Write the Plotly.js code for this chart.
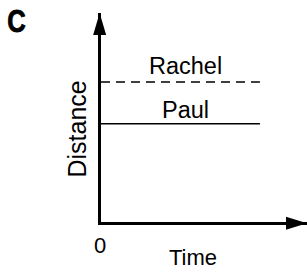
<!DOCTYPE html>
<html><head><meta charset="utf-8">
<script src="https://cdn.plot.ly/plotly-3.0.1.min.js"></script>
<style>html,body{margin:0;padding:0;background:#fff;}#chart{width:307px;height:272px;}</style>
</head><body><div id="chart"></div>
<script>
// Data
const time = [0, 1];
const names = ["Rachel", "Paul"];
const distances = [6.7, 4.7];
const dashes = ["9px,6px", "solid"];
const panelLabel = "C";
const xTitle = "Time";
const yTitle = "Distance";
const originLabel = "0";

const XMAX = 1.296, YMAX = 10;
const fam = "Liberation Sans, Arial, sans-serif";
const font = {family: fam, size: 23.5, color: "#000"};

const traces = names.map((n, i) => ({
  x: time, y: [distances[i], distances[i]], mode: "lines", name: n,
  line: {color: "#000", width: 1.4, dash: dashes[i]}, hoverinfo: "skip", showlegend: false
}));

const W = 307, H = 272, M = {l: 101, r: 0, t: 13, b: 50};
const pw = W - M.l - M.r, ph = H - M.t - M.b;

const annotations = names.map((n, i) => ({
  x: 0.53, y: distances[i], xref: "x", yref: "y", text: n, showarrow: false,
  yanchor: "bottom", yshift: i === 0 ? 1 : -1, font: font
}));
annotations.push(
  {x: 0, y: 0, xref: "x", yref: "y", text: originLabel, showarrow: false, yanchor: "middle", yshift: -23, xshift: -1,
   font: {family: fam, size: 22, color: "#000"}},
  {x: 0.58, y: 0, xref: "x", yref: "y", text: xTitle, showarrow: false, yanchor: "middle", yshift: -35,
   font: {family: fam, size: 22, color: "#000"}},
  {x: 0, y: 0.5, xref: "paper", yref: "paper", text: yTitle, showarrow: false, textangle: -90, xanchor: "center",
   xshift: -25, yshift: -12, font: {family: fam, size: 25, color: "#000"}},
  {x: (16.5 - M.l) / pw, y: 1 - (21 - M.t) / ph, xref: "paper", yref: "paper", text: panelLabel,
   showarrow: false, xanchor: "center", yanchor: "middle",
   font: {family: "Liberation Sans, Arial", size: 32, weight: "bold", color: "#000"}}
);

const shapes = [
  {type: "path", xref: "paper", yref: "paper", xsizemode: "pixel", ysizemode: "pixel", xanchor: 0, yanchor: 1,
   path: "M-1.35,0 L-7.85,-22 L5.15,-22 Z", fillcolor: "#000", line: {width: 0}},
  {type: "path", xref: "paper", yref: "paper", xsizemode: "pixel", ysizemode: "pixel", xanchor: 1, yanchor: 0,
   path: "M0,-1.35 L-21,5.15 L-21,-7.85 Z", fillcolor: "#000", line: {width: 0}}
];

const layout = {
  width: W, height: H, margin: M, paper_bgcolor: "#fff", plot_bgcolor: "#fff",
  xaxis: {range: [0, XMAX], showline: true, linewidth: 2.7, linecolor: "#000", showgrid: false, zeroline: false,
          showticklabels: false, ticks: "", fixedrange: true},
  yaxis: {range: [0, YMAX], showline: true, linewidth: 2.7, linecolor: "#000", showgrid: false, zeroline: false,
          showticklabels: false, ticks: "", fixedrange: true},
  annotations: annotations, shapes: shapes, showlegend: false
};
Plotly.newPlot("chart", traces, layout, {staticPlot: true}).then(gd => {
  // condense and embolden the panel letter to mimic a condensed heavy typeface
  gd.querySelectorAll(".annotation-text").forEach(t => {
    if (t.textContent === panelLabel) {
      t.style.transformBox = "fill-box";
      t.style.transformOrigin = "center";
      t.style.transform = "scaleX(0.8)";
      t.style.stroke = "#000";
      t.style.strokeWidth = "0.9px";
    }
  });
});
</script></body></html>
